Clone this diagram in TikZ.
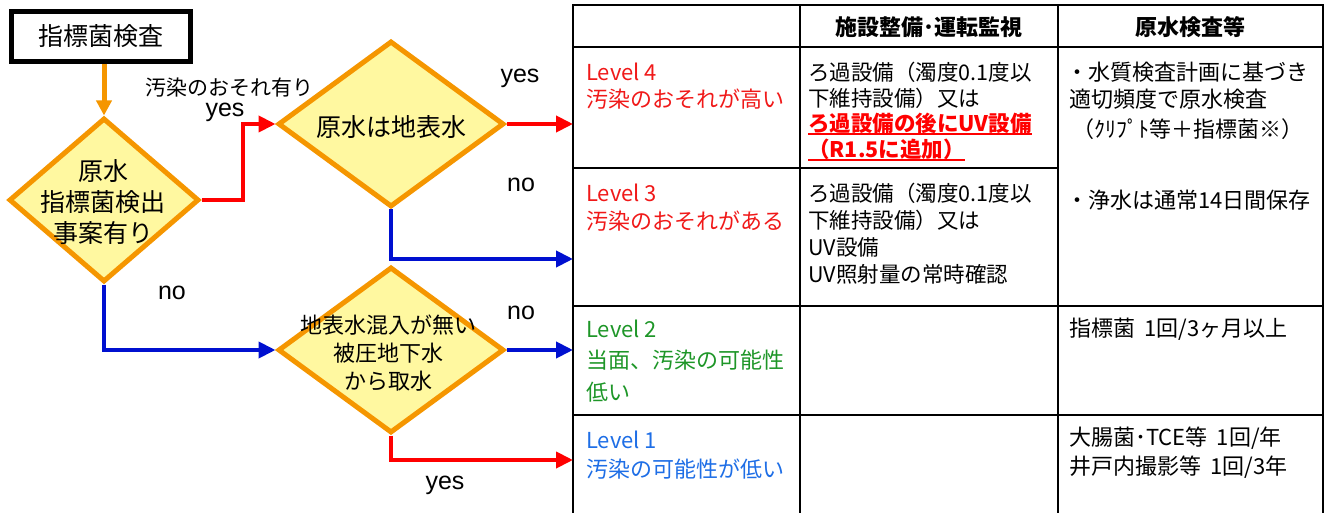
\documentclass[tikz,border=0pt]{standalone}
\usepackage{fontspec}
\setmainfont{Noto Sans CJK JP}
\newfontfamily\lat{Liberation Sans}
\usetikzlibrary{shapes.geometric,arrows.meta}
\definecolor{org}{RGB}{245,150,0}
\definecolor{ylw}{RGB}{255,248,160}
\definecolor{rd}{RGB}{255,0,0}
\definecolor{bl}{RGB}{0,16,208}
\definecolor{lvr}{RGB}{240,25,25}
\definecolor{lvg}{RGB}{30,150,40}
\definecolor{lvb}{RGB}{30,110,230}
\newcommand\myul[1]{\setbox0\hbox{#1}\rlap{\rule[-4pt]{\wd0}{1.8pt}}\box0}
\begin{document}
\begin{tikzpicture}[x=1pt,y=-1pt,
  dia/.style={diamond, draw=org, fill=ylw, line width=5pt, inner sep=0pt, minimum width=190pt, minimum height=164pt},
  dtext/.style={align=center, inner sep=0pt},
  tx/.style={anchor=west, inner sep=0pt, font=\fontsize{22}{26}\selectfont},
  tx2/.style={anchor=west, inner sep=0pt, font=\fontsize{21.5}{26}\selectfont},
  hd/.style={inner sep=0pt, font=\fontsize{22}{26}\selectfont\bfseries},
  lbl/.style={inner sep=0pt, font=\lat\fontsize{25}{30}\selectfont},
  rarr/.style={rd, line width=4pt, -{Triangle[length=17pt,width=16pt]}},
  barr/.style={bl, line width=4pt, -{Triangle[length=17pt,width=16pt]}},
  grid/.style={line width=2pt, black}
]
\useasboundingbox (0,0) rectangle (1330,513);

% table
\draw[grid] (573,513) -- (573,5) -- (1323,5) -- (1323,513);
\draw[grid] (573,47) -- (1323,47);
\draw[grid] (573,168) -- (1058,168);
\draw[grid] (573,306) -- (1323,306);
\draw[grid] (573,415) -- (1323,415);
\draw[grid] (800,5) -- (800,513);
\draw[grid] (1058,5) -- (1058,513);
\coordinate (tl) at (573,0);
\coordinate (c3) at (573,259);
\coordinate (c1) at (573,460);
\coordinate (k1) at (243,200);

% header
\node[hd] (h2) at (929,27) {施設整備･運転監視};
\node[hd] (h3) at (1190,27) {原水検査等};

% column 1
\node[tx, lvr] (a1) at (586,72) {Level 4};
\node[tx, lvr] (a2) at (586,99) {汚染のおそれが高い};
\node[tx, lvr] (b1) at (586,193) {Level 3};
\node[tx, lvr] (b2) at (586,221) {汚染のおそれがある};
\node[tx, lvg] (e1) at (586,329) {Level 2};
\node[tx, lvg] (e2) at (586,360) {当面、汚染の可能性};
\node[tx, lvg] (e3) at (586,392) {低い};
\node[tx, lvb] (f1) at (586,440) {Level 1};
\node[tx, lvb] (f2) at (586,469) {汚染の可能性が低い};

% column 2
\node[tx2] (g1) at (808,72) {ろ過設備（濁度0.1度以};
\node[tx2] (g2) at (808,98) {下維持設備）又は};
\node[tx2, rd, font=\fontsize{21.5}{26}\selectfont\bfseries] (g3) at (808,124) {\myul{ろ過設備の後にUV設備}};
\node[tx2, rd, font=\fontsize{21.5}{26}\selectfont\bfseries] (g4) at (808,150) {\myul{（R1.5に追加）}};
\node[tx2] (m1) at (808,193) {ろ過設備（濁度0.1度以};
\node[tx2] (m2) at (808,220) {下維持設備）又は};
\node[tx2] (m3) at (808,247) {UV設備};
\node[tx2] (m4) at (808,274) {UV照射量の常時確認};

% column 3
\node[tx] (p1) at (1066,72) {・水質検査計画に基づき};
\node[tx] (p2) at (1069,99) {適切頻度で原水検査};
\node[tx] (p3) at (1072,129) {（ｸﾘﾌﾟﾄ等＋指標菌※）};
\node[tx] (p4) at (1066,200) {・浄水は通常14日間保存};
\node[tx] (q1) at (1069,329) {指標菌\hspace{9pt}1回/3ヶ月以上};
\node[tx] (r1) at (1069,438) {大腸菌･TCE等\hspace{9pt}1回/年};
\node[tx] (r2) at (1069,467) {井戸内撮影等\hspace{9pt}1回/3年};

% flowchart
\node[draw, line width=5pt, minimum width=179pt, minimum height=50pt, inner sep=0pt, font=\fontsize{25}{30}\selectfont] (box) at (101,36.5) {指標菌検査};
\node[dia] (d1) at (104,200) {};
\node[dtext, font=\fontsize{25}{31}\selectfont] (t1) at (103,202) {原水\\指標菌検出\\事案有り};
\node[dia, minimum width=226pt, minimum height=166pt] (d2) at (391,124) {};
\node[dtext, font=\fontsize{25}{30}\selectfont] (t2) at (391,127) {原水は地表水};
\node[dia, minimum width=226pt, minimum height=166pt] (d3) at (391,350) {};
\node[dtext, font=\fontsize{22}{28}\selectfont] (t3) at (388,353) {地表水混入が無い\\被圧地下水\\から取水};

\draw[org, line width=5pt, -{Triangle[length=15pt,width=15pt]}] (d1.north |- box.south) -- (d1.north);
\draw[rarr] (d1.east) -- (d1.east -| k1) |- (d2.west);
\draw[rarr] (d2.east) -- (d2.east -| tl);
\draw[barr] (d2.south) |- (c3);
\draw[barr] (d1.south) |- (d3.west);
\draw[barr] (d3.east) -- (d3.east -| tl);
\draw[rarr] (d3.south) |- (c1);

% labels
\node[inner sep=0pt, font=\fontsize{21}{25}\selectfont] (w1) at (229,88) {汚染のおそれ有り};
\node[lbl] (y1) at (225,112) {yes};
\node[lbl] (y2) at (520,78) {yes};
\node[lbl] (n1) at (521,185) {no};
\node[lbl] (n2) at (172,293) {no};
\node[lbl] (n3) at (521,313) {no};
\node[lbl] (y3) at (445,485) {yes};
\end{tikzpicture}
\end{document}
